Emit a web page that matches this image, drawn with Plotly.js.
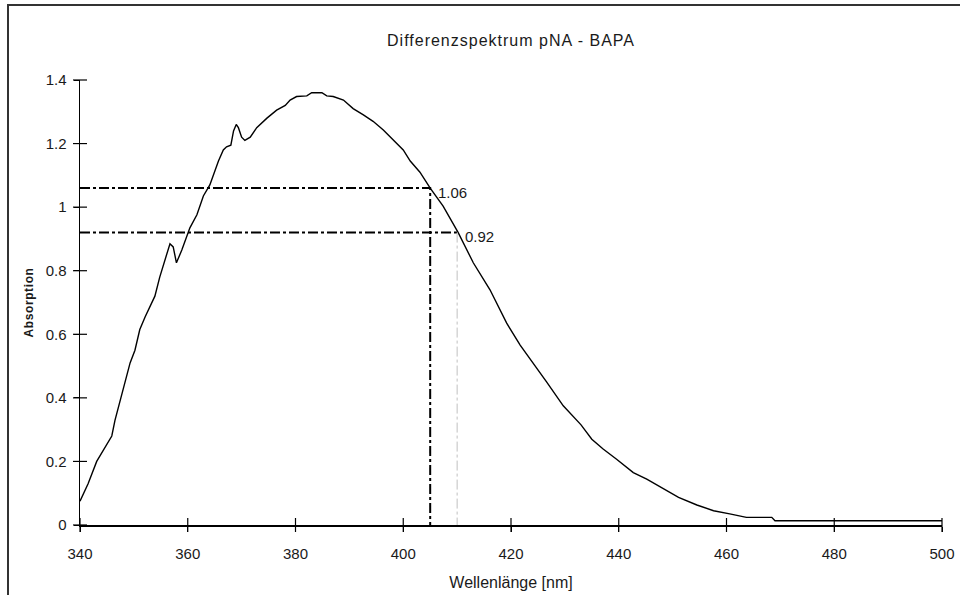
<!DOCTYPE html>
<html>
<head>
<meta charset="utf-8">
<script src="https://cdn.plot.ly/plotly-3.0.1.min.js"></script>
<style>
  html, body { margin: 0; padding: 0; background: #fff; }
  #chart { position: absolute; left: 0; top: 0; width: 960px; height: 595px; }
  #frame { position: absolute; left: 7px; top: 4px; width: 960px; height: 600px;
           border-left: 2px solid #333; border-top: 2px solid #333; pointer-events: none; }
  .gtitle { letter-spacing: 1px; }
  .ytitle { letter-spacing: 0.6px; }
</style>
</head>
<body>
<div id="chart"></div>
<div id="frame"></div>
<script>
// Data
const wavelength = [340.0, 341.5, 343.1, 344.6, 345.9, 346.5, 348.0, 349.3, 350.2, 351.1,
  352.1, 353.0, 353.9, 354.8, 355.8, 356.7, 357.3, 357.9, 358.9, 359.8,
  360.4, 361.7, 362.9, 364.1, 365.7, 366.6, 367.2, 368.0, 368.5, 369.0,
  369.4, 370.0, 370.6, 371.6, 372.8, 374.7, 376.5, 378.1, 379.0, 380.2,
  382.1, 383.0, 384.9, 385.8, 387.0, 388.9, 390.7, 392.6, 394.4, 396.3,
  398.2, 400.0, 401.3, 403.1, 405.0, 407.4, 410.2, 413.0, 416.1, 419.2,
  421.7, 424.1, 426.6, 429.7, 433.0, 435.0, 437.1, 439.6, 442.7, 445.2,
  448.3, 451.1, 454.5, 457.6, 460.6, 463.7, 468.4, 469.0, 500.0];
const absorption = [0.075, 0.13, 0.20, 0.245, 0.28, 0.33, 0.425, 0.51, 0.55, 0.615,
  0.655, 0.69, 0.72, 0.78, 0.835, 0.885, 0.875, 0.825, 0.865, 0.91,
  0.935, 0.976, 1.035, 1.07, 1.145, 1.18, 1.19, 1.195, 1.24, 1.26,
  1.25, 1.22, 1.21, 1.22, 1.25, 1.28, 1.305, 1.32, 1.337, 1.348,
  1.35, 1.36, 1.36, 1.35, 1.348, 1.337, 1.31, 1.29, 1.27, 1.243,
  1.21, 1.18, 1.145, 1.11, 1.06, 1.003, 0.92, 0.825, 0.74, 0.635,
  0.566, 0.51, 0.45, 0.375, 0.315, 0.27, 0.239, 0.207, 0.165, 0.144,
  0.113, 0.087, 0.063, 0.045, 0.035, 0.024, 0.024, 0.0135, 0.0135];

const refWavelength = [405, 410];
const refAbsorption = [1.06, 0.92];

const xRange = [340, 500];
const yRange = [0, 1.4];
const xTickVals = [340, 360, 380, 400, 420, 440, 460, 480, 500];
const yTickVals = [0, 0.2, 0.4, 0.6, 0.8, 1, 1.2, 1.4];

const titleText = 'Differenzspektrum pNA - BAPA';
const xTitle = 'Wellenlänge [nm]';
const yTitle = 'Absorption';

const FONT = 'Arial, "Liberation Sans", sans-serif';
const TXT = '#1a1a1a';
const DASH = '10px,3px,3px,3px';

const traces = [
  { x: wavelength, y: absorption, type: 'scatter', mode: 'lines',
    line: { color: '#000', width: 1.4 }, hoverinfo: 'skip', showlegend: false },
  { x: [xRange[0], refWavelength[0], refWavelength[0]],
    y: [refAbsorption[0], refAbsorption[0], yRange[0]],
    type: 'scatter', mode: 'lines', line: { color: '#000', width: 2, dash: DASH },
    hoverinfo: 'skip', showlegend: false },
  { x: [xRange[0], refWavelength[1]],
    y: [refAbsorption[1], refAbsorption[1]],
    type: 'scatter', mode: 'lines', line: { color: '#000', width: 2, dash: DASH },
    hoverinfo: 'skip', showlegend: false },
  { x: [refWavelength[1], refWavelength[1]],
    y: [refAbsorption[1], yRange[0]],
    type: 'scatter', mode: 'lines', line: { color: '#c0c0c0', width: 1, dash: DASH },
    hoverinfo: 'skip', showlegend: false },
  // crossing tick marks on the x axis
  { x: xTickVals, y: xTickVals.map(() => yRange[0]), type: 'scatter', mode: 'markers',
    marker: { symbol: 'line-ns', size: 10, line: { width: 1.2, color: '#000' } },
    cliponaxis: false, hoverinfo: 'skip', showlegend: false },
  // crossing tick marks on the y axis
  { x: yTickVals.map(() => xRange[0]), y: yTickVals, type: 'scatter', mode: 'markers',
    marker: { symbol: 'line-ew', size: 10, line: { width: 1.2, color: '#000' } },
    cliponaxis: false, hoverinfo: 'skip', showlegend: false }
];

const annotations = refWavelength.map((w, i) => ({
  x: w, y: refAbsorption[i], xref: 'x', yref: 'y',
  text: refAbsorption[i].toFixed(2), showarrow: false,
  xanchor: 'left', yanchor: 'middle', xshift: 6, yshift: -4,
  font: { family: FONT, size: 15, color: TXT }
}));

const axisCommon = {
  showgrid: false, zeroline: false, fixedrange: true,
  tickfont: { family: FONT, size: 15, color: TXT },
  ticks: 'outside', ticklen: 5, tickwidth: 1, tickcolor: '#000',
  showline: true, linecolor: '#000', linewidth: 1.5
};

const layout = {
  width: 960, height: 595,
  margin: { l: 80, r: 18, t: 80, b: 70 },
  paper_bgcolor: '#fff', plot_bgcolor: '#fff',
  title: { text: titleText, x: 0.5, xref: 'paper', xanchor: 'center',
           y: 37, yref: 'container', yanchor: 'middle',
           font: { family: FONT, size: 16, color: TXT } },
  xaxis: Object.assign({}, axisCommon, {
    range: xRange, tickmode: 'array', tickvals: xTickVals, ticklabelstandoff: 9,
    title: { text: xTitle, standoff: 16, font: { family: FONT, size: 16, color: TXT } }
  }),
  yaxis: Object.assign({}, axisCommon, {
    range: yRange, tickmode: 'array', tickvals: yTickVals, ticklabelstandoff: 4,
    title: { text: yTitle, standoff: 9, font: { family: FONT, size: 12, color: TXT, weight: 'bold' } }
  }),
  annotations: annotations,
  showlegend: false
};

Plotly.newPlot('chart', traces, layout, { staticPlot: true, displayModeBar: false });
</script>
</body>
</html>
